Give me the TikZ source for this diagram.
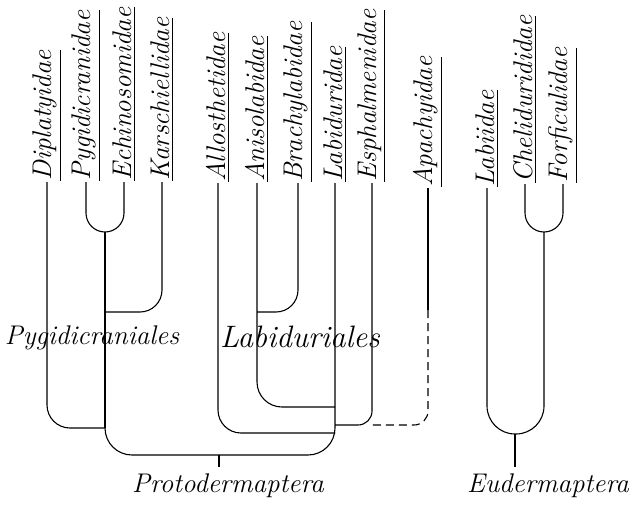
\documentclass[tikz,border=0pt]{standalone}
\usepackage{fontspec}
\begin{document}
\begin{tikzpicture}[x=0.5pt, y=-0.5pt,
    family/.style={rotate=90, anchor=west, inner sep=0.5pt,
        font=\fontsize{13.5}{16}\selectfont\itshape},
    branch/.style={line width=0.55pt},
    order/.style={font=\fontsize{13.5}{16}\selectfont\itshape},
    group/.style={font=\fontsize{15.5}{18}\selectfont\itshape\addfontfeature{LetterSpace=9}}]
    \useasboundingbox (0,0) rectangle (631,504);

    % Families
    \node[family] (dipl) at (47,182) {\underline{Diplatyidae}};
    \node[family] (pygi) at (86,182) {\underline{Pygidicranidae}};
    \node[family] (echi) at (124,182) {\underline{Echinosomidae}};
    \node[family] (kars) at (162,182) {\underline{Karschiellidae}};
    \node[family] (allo) at (218,183) {\underline{Allosthetidae}};
    \node[family] (anis) at (257,183) {\underline{Anisolabidae}};
    \node[family] (brac) at (298,183) {\underline{Brachylabidae}};
    \node[family] (labd) at (335,183) {\underline{Labiduridae}};
    \node[family] (esph) at (372,183) {\underline{Esphalmenidae}};
    \node[family] (apac) at (428,188) {\underline{Apachyidae}};
    \node[family] (labi) at (487,188) {\underline{Labiidae}};
    \node[family] (chel) at (525,184) {\underline{Chelidurididae}};
    \node[family] (forf) at (563,184) {\underline{Forficulidae}};

    % Group labels
    \node[order] (pygord) at (92,338) {Pygidicraniales};
    \node[group] (labord) at (300,337) {Labiduriales};
    \node[order, font=\fontsize{13.5}{16}\selectfont\itshape\addfontfeature{LetterSpace=4}] (proto) at (228,486) {Protodermaptera};
    \node[order] (eude) at (548,486) {Eudermaptera};

    % Junctions
    \coordinate (pe) at (105,232);
    \coordinate (pk) at (105,312);
    \coordinate (pd) at (105,428);
    \coordinate (proot) at (219,455);
    \coordinate (lb) at (335,407);
    \coordinate (lc) at (257,312);
    \coordinate (le) at (335,425);
    \coordinate (la) at (335,433);
    \coordinate (ae) at (372,425);
    \coordinate (ad) at (428,310);
    \coordinate (ce) at (544,232);
    \coordinate (eroot) at (515,434);

    % Protodermaptera
    \draw[branch, rounded corners=9.5pt] (pygi.west) |- (pe);
    \draw[branch, rounded corners=9.5pt] (echi.west) |- (pe);
    \draw[branch] (pe) -- (pd);
    \draw[branch, rounded corners=11pt] (kars.west) |- (pk);
    \draw[branch, rounded corners=11.5pt] (dipl.west) |- (pd);
    \draw[branch, rounded corners=13.5pt] (pd) |- (proot);
    \draw[branch, rounded corners=13.5pt] (labd.west) |- (proot);
    \draw[branch, rounded corners=11pt] (brac.west) |- (lc);
    \draw[branch, rounded corners=12.5pt] (anis.west) |- (lb);
    \draw[branch, rounded corners=11.5pt] (allo.west) |- (la);
    \draw[branch, rounded corners=7pt] (esph.west) |- (le);
    \draw[branch] (apac.west) -- (ad);
    \draw[branch, dashed, dash pattern=on 4pt off 2.5pt, rounded corners=7pt] (ad) |- (ae);
    \draw[branch] (proot) -- (proot |- proto.north);

    % Eudermaptera
    \draw[branch, rounded corners=9.5pt] (chel.west) |- (ce);
    \draw[branch, rounded corners=9.5pt] (forf.west) |- (ce);
    \draw[branch, rounded corners=14pt] (labi.west) |- (eroot);
    \draw[branch, rounded corners=14pt] (ce) |- (eroot);
    \draw[branch] (eroot) -- (eroot |- eude.north);
\end{tikzpicture}
\end{document}
